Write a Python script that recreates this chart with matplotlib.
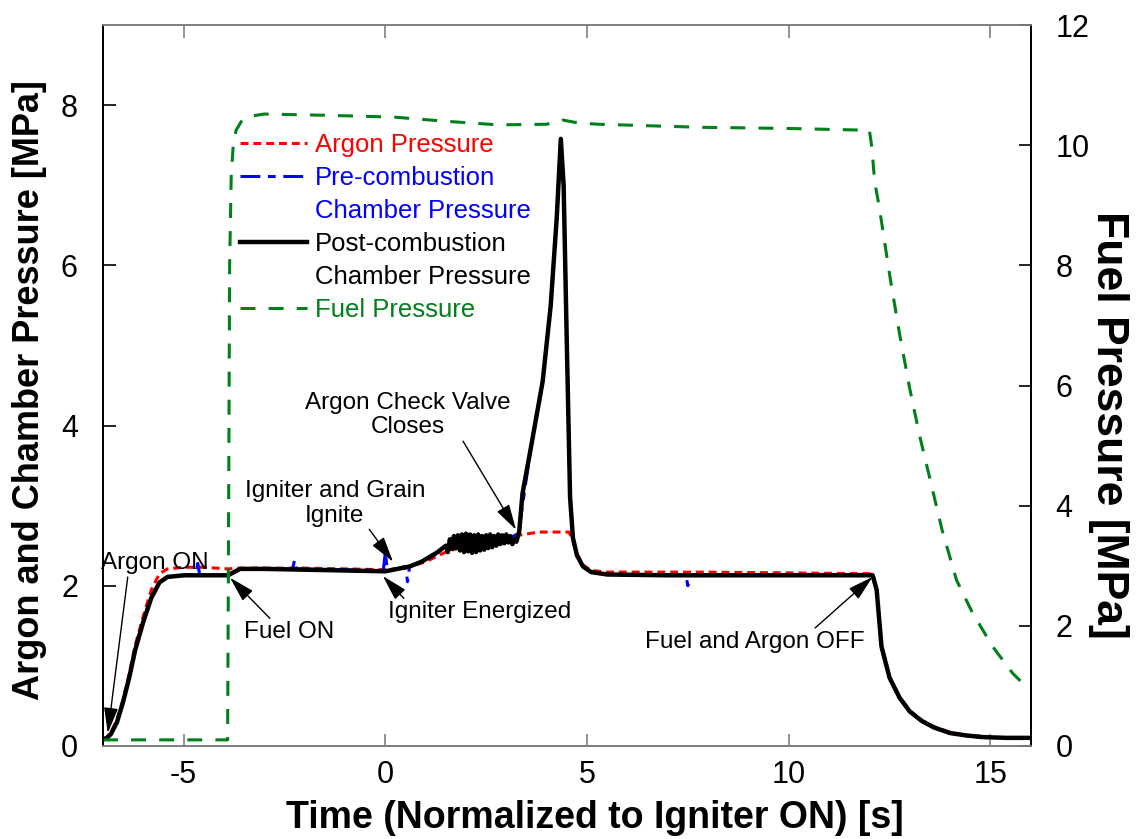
import matplotlib
matplotlib.use("Agg")
import matplotlib.pyplot as plt
from matplotlib.lines import Line2D

# ── Data, (time [s], pressure [MPa]) ─────────────────────────────────────────

post_pts = [
    (-7.0, 0.08), (-6.9, 0.10), (-6.8, 0.15), (-6.65, 0.30), (-6.5, 0.55),
    (-6.35, 0.85), (-6.2, 1.20), (-6.0, 1.55), (-5.8, 1.85), (-5.6, 2.04),
    (-5.4, 2.11), (-5.0, 2.13), (-4.5, 2.13), (-3.9, 2.13), (-3.6, 2.21),
    (-3.0, 2.21), (-2.0, 2.20), (-1.0, 2.19), (0.0, 2.18), (0.3, 2.21),
    (0.6, 2.24), (0.9, 2.30), (1.1, 2.36), (1.3, 2.42),
    (1.50, 2.50), (1.55, 2.42), (1.60, 2.58), (1.65, 2.46), (1.70, 2.62),
    (1.75, 2.47), (1.80, 2.63), (1.85, 2.44), (1.90, 2.64), (1.95, 2.42),
    (2.00, 2.65), (2.05, 2.43), (2.10, 2.64), (2.15, 2.41), (2.20, 2.63),
    (2.25, 2.42), (2.30, 2.64), (2.35, 2.44), (2.40, 2.62), (2.45, 2.45),
    (2.50, 2.63), (2.55, 2.47), (2.60, 2.64), (2.65, 2.48), (2.70, 2.62),
    (2.75, 2.50), (2.80, 2.64), (2.85, 2.52), (2.90, 2.63), (2.95, 2.53),
    (3.00, 2.64), (3.05, 2.54), (3.10, 2.62), (3.15, 2.52), (3.20, 2.58),
    (3.25, 2.55), (3.32, 2.68), (3.4, 3.15), (3.6, 3.70), (3.9, 4.55),
    (4.1, 5.50), (4.25, 6.60), (4.35, 7.58), (4.42, 7.00), (4.5, 5.00),
    (4.58, 3.10), (4.65, 2.60), (4.75, 2.38), (4.9, 2.24), (5.1, 2.17),
    (5.5, 2.14), (7.0, 2.13), (9.0, 2.13), (11.0, 2.13), (12.08, 2.13),
    (12.18, 1.95), (12.3, 1.24), (12.5, 0.85), (12.75, 0.60), (13.0, 0.43),
    (13.3, 0.31), (13.6, 0.23), (14.0, 0.16), (14.4, 0.13), (14.8, 0.11),
    (15.4, 0.10), (16.0, 0.10),
]

pre_pts = [
    (-7.0, 0.08), (-6.9, 0.10), (-6.8, 0.15), (-6.65, 0.30), (-6.5, 0.55),
    (-6.35, 0.85), (-6.2, 1.20), (-6.0, 1.55), (-5.8, 1.85), (-5.6, 2.04),
    (-5.4, 2.11), (-5.0, 2.13), (-4.7, 2.13), (-4.65, 2.28), (-4.6, 2.13),
    (-3.9, 2.13), (-3.6, 2.21), (-2.3, 2.21), (-2.25, 2.32), (-2.2, 2.21),
    (-0.05, 2.19), (0.0, 2.42), (0.05, 2.18), (0.5, 2.24), (0.55, 2.05),
    (0.6, 2.24), (1.1, 2.34), (1.5, 2.50), (2.0, 2.55), (2.5, 2.55),
    (3.0, 2.58), (3.3, 2.65), (3.6, 3.70), (3.9, 4.55), (4.1, 5.50),
    (4.25, 6.60), (4.35, 7.55), (4.42, 7.00), (4.5, 5.00), (4.58, 3.10),
    (4.65, 2.60), (4.75, 2.38), (4.9, 2.24), (5.1, 2.17), (5.5, 2.14),
    (7.45, 2.13), (7.5, 2.00), (7.55, 2.13), (10.0, 2.13), (12.08, 2.13),
    (12.18, 1.95), (12.3, 1.24), (12.5, 0.85), (12.75, 0.60), (13.0, 0.43),
    (13.3, 0.31), (13.6, 0.23), (14.0, 0.16), (14.4, 0.13), (14.7, 0.11),
    (14.75, 0.18), (14.8, 0.11), (15.4, 0.10), (16.0, 0.10),
]

argon_pts = [
    (-7.0, 0.08), (-6.9, 0.11), (-6.8, 0.17), (-6.65, 0.33), (-6.5, 0.58),
    (-6.35, 0.90), (-6.2, 1.26), (-6.0, 1.62), (-5.8, 1.95), (-5.6, 2.15),
    (-5.4, 2.21), (-5.0, 2.23), (-4.5, 2.23), (-3.9, 2.21), (-3.6, 2.22),
    (-2.0, 2.22), (0.0, 2.20), (0.5, 2.22), (1.0, 2.30), (1.5, 2.42),
    (2.0, 2.50), (2.5, 2.55), (3.0, 2.60), (3.3, 2.63), (3.8, 2.67),
    (4.2, 2.67), (4.55, 2.67), (4.62, 2.60), (4.75, 2.40), (4.9, 2.26),
    (5.1, 2.19), (5.5, 2.17), (8.0, 2.17), (12.08, 2.15), (12.18, 1.97),
    (12.3, 1.25), (12.5, 0.86), (12.75, 0.61), (13.0, 0.44), (13.3, 0.32),
    (13.6, 0.24), (14.0, 0.17), (14.4, 0.13), (14.8, 0.11), (15.4, 0.10),
    (16.0, 0.10),
]

# fuel pressure, right axis
fuel_pts = [
    (-7.0, 0.10), (-5.0, 0.10), (-3.91, 0.10), (-3.89, 3.00), (-3.86, 8.00),
    (-3.82, 9.50), (-3.77, 10.00), (-3.7, 10.25), (-3.55, 10.42),
    (-3.3, 10.49), (-3.0, 10.52), (-1.5, 10.50), (0.2, 10.47), (1.5, 10.40),
    (2.8, 10.34), (4.0, 10.35), (4.4, 10.42), (4.8, 10.37), (5.3, 10.35),
    (7.8, 10.30), (10.0, 10.28), (12.0, 10.25), (12.06, 9.97), (12.13, 9.40),
    (12.25, 8.95), (12.5, 7.85), (12.75, 6.85), (13.0, 5.95), (13.25, 5.15),
    (13.5, 4.45), (13.8, 3.60), (14.16, 2.76), (14.56, 2.21), (15.06, 1.65),
    (15.55, 1.21), (15.97, 0.93),
]

legend_labels = ["Argon Pressure", "Pre-combustion", "Chamber Pressure",
                 "Post-combustion", "Chamber Pressure", "Fuel Pressure"]
legend_colors = ["red", "blue", "blue", "black", "black", "#007f1a"]

# ── Plot ──────────────────────────────────────────────────────────────────────

plt.rcParams["font.family"] = ["Liberation Sans", "DejaVu Sans"]
plt.rcParams["axes.unicode_minus"] = False

fig = plt.figure(figsize=(11.44, 8.39), dpi=100)
ax = fig.add_axes([0.090, 0.111, 0.811, 0.859])
ax2 = ax.twinx()

t, p = zip(*argon_pts)
ln_ar, = ax.plot(t, p, color="red", lw=2.2, dashes=(2.6, 1.6), zorder=2)
t, p = zip(*pre_pts)
ln_pre, = ax.plot(t, p, color="blue", lw=2.2, dashes=(6.5, 2.5, 2.5, 2.5),
                  zorder=3)
t, p = zip(*post_pts)
ln_post, = ax.plot(t, p, color="black", lw=3.2, zorder=4)
t, p = zip(*fuel_pts)
ln_fuel, = ax2.plot(t, p, color="#007f1a", lw=2.2, dashes=(4.9, 4.3))

ax.set_xlim(-7, 16)
ax.set_ylim(0, 9)
ax2.set_ylim(0, 12)
ax.set_xticks([-5, 0, 5, 10, 15])
ax.set_yticks([0, 2, 4, 6, 8])
ax2.set_yticks([0, 2, 4, 6, 8, 10, 12])

for a in (ax, ax2):
    a.tick_params(direction="in", length=9, width=1.2, labelsize=22)
    a.tick_params(axis="y", pad=18)
    a.tick_params(axis="x", pad=10)
    for s in a.spines.values():
        s.set_linewidth(1.3)
    a.spines["top"].set_color("#808080")
    a.spines["bottom"].set_color("#808080")
ax.tick_params(axis="x", top=True, color="#808080")

ax.set_xlabel("Time (Normalized to Igniter ON) [s]", fontsize=27,
              fontweight="bold", va="center")
ax.xaxis.set_label_coords(0.530, -0.100)
ax.set_ylabel("Argon and Chamber Pressure [MPa]", fontsize=26,
              fontweight="bold", va="center")
ax.yaxis.set_label_coords(-0.079, 0.494)
ax2.set_ylabel("Fuel Pressure [MPa]", fontsize=32, fontweight="bold",
               rotation=270, va="center")
ax2.yaxis.set_label_coords(1.084, 0.445)

# legend: second lines of the two-line labels get an empty handle
blank = Line2D([], [], color="none")
handles = [ln_ar, ln_pre, blank, ln_post, blank, ln_fuel]
leg = ax2.legend(handles, legend_labels, loc="upper left",
                 bbox_to_anchor=(0.123, 0.883), frameon=False, fontsize=18.5,
                 handlelength=2.6, handletextpad=0.3, labelspacing=0.35)
for txt, c in zip(leg.get_texts(), legend_colors):
    txt.set_color(c)

arrow = dict(arrowstyle="-|>,head_length=0.9,head_width=0.25", color="black",
             lw=1.0, shrinkA=0, shrinkB=0)
notes = [
    ("Argon ON", (-5.71, 2.28), (-6.88, 0.16), (0.25, 0.0)),
    ("Fuel ON", (-2.39, 1.42), (-3.85, 2.10), (0.32, 1.0)),
    ("Igniter Energized", (2.34, 1.67), (-0.06, 2.12), (0.1, 1.0)),
    ("Igniter and Grain\nIgnite", (-1.25, 3.03), (0.19, 2.30), (0.66, 0.1)),
    ("Argon Check Valve\nCloses", (0.56, 4.13), (3.24, 2.70), (0.76, 0.0)),
    ("Fuel and Argon OFF", (9.16, 1.30), (12.08, 2.11), (0.76, 1.0)),
]
for text, xytext, xy, rel in notes:
    ax2.annotate(text, xy=xy, xytext=xytext, xycoords=ax.transData,
                 textcoords=ax.transData, ha="center", va="center",
                 fontsize=17.5, linespacing=1.15,
                 arrowprops=dict(arrow, relpos=rel))

fig.savefig("out.png", dpi=100)
